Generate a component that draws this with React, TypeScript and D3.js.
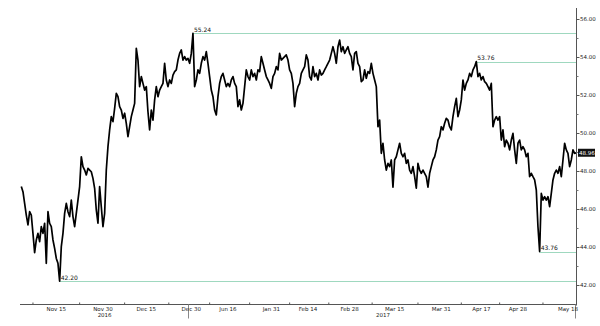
import React from "react";
import * as d3 from "d3";

// Price series (Nov 2016 – May 2017), read left to right at even steps
const segNov: number[] = [
  47.18, 46.91, 46.30, 45.68, 45.16, 45.86, 45.68, 44.72, 43.70, 44.37,
  44.72, 44.28, 45.07, 44.72, 45.25, 43.14, 45.86, 45.25, 45.07, 44.37,
  43.93, 43.40, 43.14, 42.20, 44.02, 44.72, 45.77, 46.30, 45.86, 45.60,
  46.47, 45.60, 45.07, 45.77, 46.47, 47.18, 48.75, 48.23, 48.05, 47.79,
  48.14, 48.05, 47.96, 47.61, 47.09, 45.95, 45.25, 47.18, 46.12, 45.07,
  45.77, 48.05, 49.28, 50.16, 50.86, 50.60, 51.30, 52.09, 51.91, 51.39,
  51.21, 50.77, 51.04, 50.51,
];
const segDec: number[] = [
  49.81, 50.33, 50.86, 51.21, 51.56, 54.46, 53.84, 52.44, 52.97, 52.61,
  52.26, 52.44, 51.12, 50.16, 51.21, 50.68, 51.74, 52.44, 51.91, 52.26,
  52.44, 52.61, 53.67, 52.79, 52.44, 52.79, 52.61, 53.05, 53.23, 53.32,
  53.84, 54.19, 54.37, 53.84, 54.02, 53.84, 53.93, 53.67, 54.19, 55.24,
  52.44, 52.79, 53.32, 53.14, 53.67, 54.02, 53.84, 54.28, 53.67, 52.97,
  52.26, 51.91, 51.21, 50.95, 51.91, 52.61, 52.97, 53.14, 52.79, 52.44,
  52.61, 52.44, 52.79, 52.97, 52.61, 52.44,
];
const segJan: number[] = [
  51.39, 51.74, 51.21, 51.56, 52.44, 53.32, 52.97, 52.79, 53.32, 52.97,
  53.14, 52.79, 53.32, 53.23, 54.02, 53.67, 53.32, 52.97, 52.79, 52.61,
  52.35, 52.97, 53.14, 53.49, 53.32, 54.19, 53.84, 53.93, 54.02, 54.11,
  53.84, 53.32, 53.14, 52.61, 51.39, 52.09, 52.44, 52.61, 53.14, 53.32,
  53.49, 54.11, 53.84, 52.97, 52.79, 53.49, 52.97, 53.14, 52.79, 53.32,
  53.05, 53.14, 53.32, 53.49, 53.67, 53.84, 54.19, 54.54, 54.19, 53.67,
  54.54, 54.89, 54.28, 54.54, 54.19, 54.37,
];
const segMar: number[] = [
  54.54, 54.19, 54.02, 53.32, 54.19, 54.28, 53.67, 53.49, 52.70, 52.79,
  53.32, 52.88, 53.23, 53.14, 53.67, 53.14, 52.79, 52.44, 50.33, 50.68,
  48.93, 49.46, 48.58, 48.05, 48.40, 48.23, 48.58, 47.15, 48.58, 48.75,
  49.11, 49.46, 48.93, 48.75, 48.93, 48.40, 48.58, 48.05, 47.88, 48.23,
  47.70, 47.10, 48.40, 48.05, 47.88, 48.05, 47.88, 47.70, 47.15, 47.88,
  48.23, 48.58, 48.75, 49.11, 49.63, 49.81, 50.33, 50.16, 50.51, 50.77,
  50.68, 50.33, 50.16, 50.86, 51.39, 51.82,
];
const segApr: number[] = [
  50.86, 51.21, 51.74, 52.79, 52.26, 52.61, 52.79, 53.14, 52.97, 53.32,
  53.49, 53.76, 52.97, 53.14, 52.79, 52.97, 52.70, 52.61, 52.44, 52.26,
  52.61, 50.33, 50.68, 50.86, 50.68, 50.86, 49.63, 50.16, 49.28, 49.63,
  49.46, 49.11, 49.63, 49.98, 49.11, 48.40, 49.46, 49.63, 49.11, 49.28,
  49.11, 48.75, 48.93, 47.70, 47.88, 47.70, 47.53, 47.00, 45.07, 43.76,
  46.82, 46.47, 46.65, 46.47, 46.65, 46.12, 46.82, 47.53, 47.88, 48.05,
  47.88, 48.23, 47.70, 48.58, 49.46, 49.11, 48.93, 48.23, 48.58, 49.11,
  48.93, 48.96,
];

const prices: number[] = [...segNov, ...segDec, ...segJan, ...segMar, ...segApr];

// x-axis labels at series index
const tickLabels: string[] = ["Nov 15", "Nov 30", "Dec 15", "Dec 30", "Jun 16", "Jan 31", "Feb 14", "Feb 28", "Mar 15", "Mar 31", "Apr 17", "Apr 28", "May 18"];
const tickIndex: number[] = [21, 49, 75, 102, 124, 150, 172, 197, 224, 252, 276, 298, 328];
const yearLabels: string[] = ["2016", "2017"];
const yearIndex: number[] = [50, 217];
const separatorIndex: number[] = [100, 332];

// y-axis ticks
const yTicks: number[] = [42, 44, 46, 48, 50, 52, 54, 56];
const yMinorTicks: number[] = [43, 45, 47, 49, 51, 53, 55];

// annotated extremes: [searchFrom, searchTo, kind]
const extremeRanges: [number, number, "max" | "min"][] = [
  [0, 333, "max"],
  [0, 333, "min"],
  [230, 333, "max"],
  [280, 333, "min"],
];

const W = 600;
const H = 326;
const FONT = "'DejaVu Sans', Verdana, sans-serif";

export default function App() {
  const n = prices.length;
  const x = d3.scaleLinear().domain([0, n - 1]).range([21.3, 576.3]);
  const y = d3.scaleLinear().domain([42, 56]).range([285, 19]);
  const axisX = 576.5;
  const axisY = 304.5;
  const left = 20;

  const line = d3
    .line<number>()
    .x((_, i) => x(i))
    .y((d) => y(d));

  const extremes = extremeRanges.map(([a, b, kind]) => {
    const slice = prices.slice(a, b + 1);
    const idx = (kind === "max" ? d3.maxIndex(slice) : d3.minIndex(slice)) + a;
    return { idx, value: prices[idx] };
  });

  const minorX: number[] = [];
  const firstGap = tickIndex[1] - tickIndex[0];
  minorX.push(tickIndex[0] - firstGap / 2);
  for (let i = 0; i < tickIndex.length - 1; i++) {
    minorX.push((tickIndex[i] + tickIndex[i + 1]) / 2);
  }

  const last = prices[n - 1];
  const lastLabel = last.toFixed(2);

  return (
    <svg
      width={W}
      height={H}
      style={{ position: "absolute", left: 0, top: 0, background: "#fff" }}
      fontFamily={FONT}
    >
      <rect x={0} y={0} width={W} height={H} fill="#fff" />
      {/* reference lines */}
      {extremes.map((e, i) => (
        <g key={"ex" + i}>
          <line
            x1={x(e.idx)}
            x2={axisX}
            y1={Math.round(y(e.value)) + 0.5}
            y2={Math.round(y(e.value)) + 0.5}
            stroke="#9fd8bf"
            strokeWidth={1}
          />
          <text x={x(e.idx) + 1} y={y(e.value) - 1.5} fontSize={6} fill="#111">
            {e.value.toFixed(2)}
          </text>
        </g>
      ))}

      {/* price line */}
      <path d={line(prices) || ""} fill="none" stroke="#000" strokeWidth={1.7} strokeLinejoin="round" />

      {/* x axis */}
      <line x1={left} x2={axisX} y1={axisY} y2={axisY} stroke="#555" strokeWidth={1} />
      {minorX.map((m, i) => (
        <line key={"mx" + i} x1={x(m)} x2={x(m)} y1={axisY - 2} y2={axisY} stroke="#555" strokeWidth={1} />
      ))}
      {separatorIndex.map((s, i) => (
        <line key={"sep" + i} x1={Math.round(x(s)) + 0.5} x2={Math.round(x(s)) + 0.5} y1={axisY} y2={axisY + 14} stroke="#888" strokeWidth={1} />
      ))}
      {tickLabels.map((t, i) => (
        <text key={"xl" + i} x={x(tickIndex[i])} y={axisY + 6.5} fontSize={5.5} textAnchor="middle" fill="#222">
          {t}
        </text>
      ))}
      {yearLabels.map((t, i) => (
        <text key={"yr" + i} x={x(yearIndex[i])} y={axisY + 12} fontSize={5.5} textAnchor="middle" fill="#222">
          {t}
        </text>
      ))}

      {/* y axis */}
      <line x1={axisX} x2={axisX} y1={8} y2={axisY + 1} stroke="#555" strokeWidth={1} />
      {yTicks.map((t) => (
        <g key={"yt" + t}>
          <line x1={axisX} x2={axisX + 3} y1={Math.round(y(t)) + 0.5} y2={Math.round(y(t)) + 0.5} stroke="#555" />
          <text x={axisX + 3.5} y={y(t) + 2} fontSize={5.5} fill="#222">
            {t.toFixed(2)}
          </text>
        </g>
      ))}
      {yMinorTicks.map((t) => (
        <line key={"ym" + t} x1={axisX} x2={axisX + 2} y1={Math.round(y(t)) + 0.5} y2={Math.round(y(t)) + 0.5} stroke="#777" />
      ))}

      {/* last price tag */}
      <rect x={axisX + 1.5} y={y(last) - 4} width={17} height={8} fill="#111" />
      <text x={axisX + 2.5} y={y(last) + 2} fontSize={5.5} fill="#fff">
        {lastLabel}
      </text>
    </svg>
  );
}
